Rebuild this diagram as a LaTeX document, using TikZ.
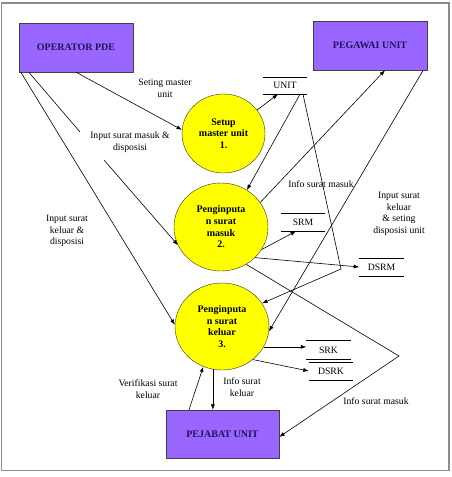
\documentclass[tikz,border=0pt]{standalone}
\usepackage{fontspec}
\setmainfont{Liberation Serif}
\usetikzlibrary{arrows.meta,positioning,shapes.geometric}

\definecolor{entfill}{RGB}{153,102,255}
\definecolor{enttext}{RGB}{30,20,90}
\definecolor{procfill}{RGB}{255,255,0}
\definecolor{framegray}{RGB}{140,140,140}

\begin{document}
\begin{tikzpicture}[
    x=1pt, y=-1pt,
    >={Latex[length=5.5pt,width=4pt]},
    entity/.style={draw=black!75, fill=entfill, minimum width=114pt, minimum height=49pt, inner sep=0pt, font=\fontsize{10}{12}\selectfont\bfseries, text=enttext},
    proc/.style={draw=black!80, fill=procfill, ellipse, inner sep=0pt, align=center, font=\fontsize{10}{11.7}\selectfont\bfseries},
    store/.style={minimum width=44pt, minimum height=18pt, inner sep=0pt, font=\fontsize{9.7}{11.7}\selectfont},
    lbl/.style={align=center, inner sep=0pt, font=\fontsize{9.7}{11.7}\selectfont},
    flow/.style={->, line width=0.6pt}
]
\useasboundingbox (0,0) rectangle (452,477);
\draw[framegray, line width=1.2pt] (1.5,3) rectangle (449,470.5);

% External entities
\node[entity] (op) at (76,47.5) {OPERATOR PDE};
\node[entity] (pegawai) at (370,45.5) {PEGAWAI UNIT};
\node[entity, minimum width=113pt, minimum height=48pt] (pejabat) at (222.5,434) {PEJABAT UNIT};

% Processes
\node[proc, minimum width=83pt, minimum height=79pt] (setup) at (223.5,133.5) {Setup\\master unit\\1.};
\node[proc, minimum width=94pt, minimum height=88pt] (masuk) at (221,227) {Penginputa\\n surat\\masuk\\2.};
\node[proc, minimum width=94pt, minimum height=87pt] (keluar) at (222,326.5) {Penginputa\\n surat\\keluar\\3.};

% Data stores
\node[store, minimum height=17pt] (unit) at (285,85.5) {UNIT};
\node[store] (srm) at (303,222) {SRM};
\node[store] (dsrm) at (381.5,267) {DSRM};
\node[store, minimum height=18.5pt] (srk) at (328.5,350) {SRK};
\node[store, minimum height=17.7pt] (dsrk) at (331,371) {DSRK};
\foreach \s in {unit,srm,dsrm,srk,dsrk}
  \draw[line width=0.6pt] (\s.north west) -- (\s.north east) (\s.south west) -- (\s.south east);

% Labels
\node[lbl] (lsetmaster) at (165,88) {Seting master\\unit};
\node[lbl] (linmasuk) at (130,142) {Input surat masuk \&\\disposisi};
\node[lbl] (linkeluar) at (67,231) {Input surat\\keluar \&\\disposisi};
\node[lbl] (linfomasuk) at (321,184) {Info surat masuk};
\node[lbl] (lsetdisp) at (399,214) {Input surat\\keluar\\\& seting\\disposisi unit};
\node[lbl] (lverif) at (148,389) {Verifikasi surat\\keluar};
\node[lbl] (linfokeluar) at (242,387) {Info surat\\keluar};
\node[lbl] (linfopej) at (376,401) {Info surat masuk};

% Bends and gaps
\coordinate (gapa) at (80,132);
\coordinate (gapb) at (104,160);
\coordinate (bendunit) at (341,269);
\coordinate (bendpej) at (399,356);

% Arrows
\draw[flow] (op.south) -- (setup.175);
\draw[line width=0.6pt] ([xshift=10pt]op.south west) -- (gapa);
\draw[flow] (gapb) -- (masuk.203);
\draw[flow] ([xshift=2pt]op.south west) -- (keluar.178);
\draw[flow] (setup.35) -- ([xshift=-7pt]unit.south);
\draw[flow] ([xshift=15pt]unit.south) -- (masuk.55);
\draw[flow] ([xshift=18pt]unit.south) -- (bendunit) -- (keluar.30);
\draw[flow] (masuk.32) -- ([xshift=15pt]pegawai.south);
\draw[flow] ([xshift=-4pt]pegawai.south east) -- (keluar.-6);
\draw[flow] (masuk.-29) -- ([xshift=-7pt]srm.south);
\draw[flow] (masuk.-42) -- (dsrm.west);
\draw[flow] (masuk.-56) -- (bendpej) -- ([yshift=-3pt]pejabat.east);
\draw[flow] (keluar.-26) -- (keluar.-26 -| srk.west);
\draw[flow] (keluar.-47) -- (dsrk.west);
\draw[flow] (keluar.258) -- (keluar.258 |- pejabat.north);
\draw[flow] ([xshift=-33.5pt]pejabat.north) -- (keluar.245);

\end{tikzpicture}
\end{document}
